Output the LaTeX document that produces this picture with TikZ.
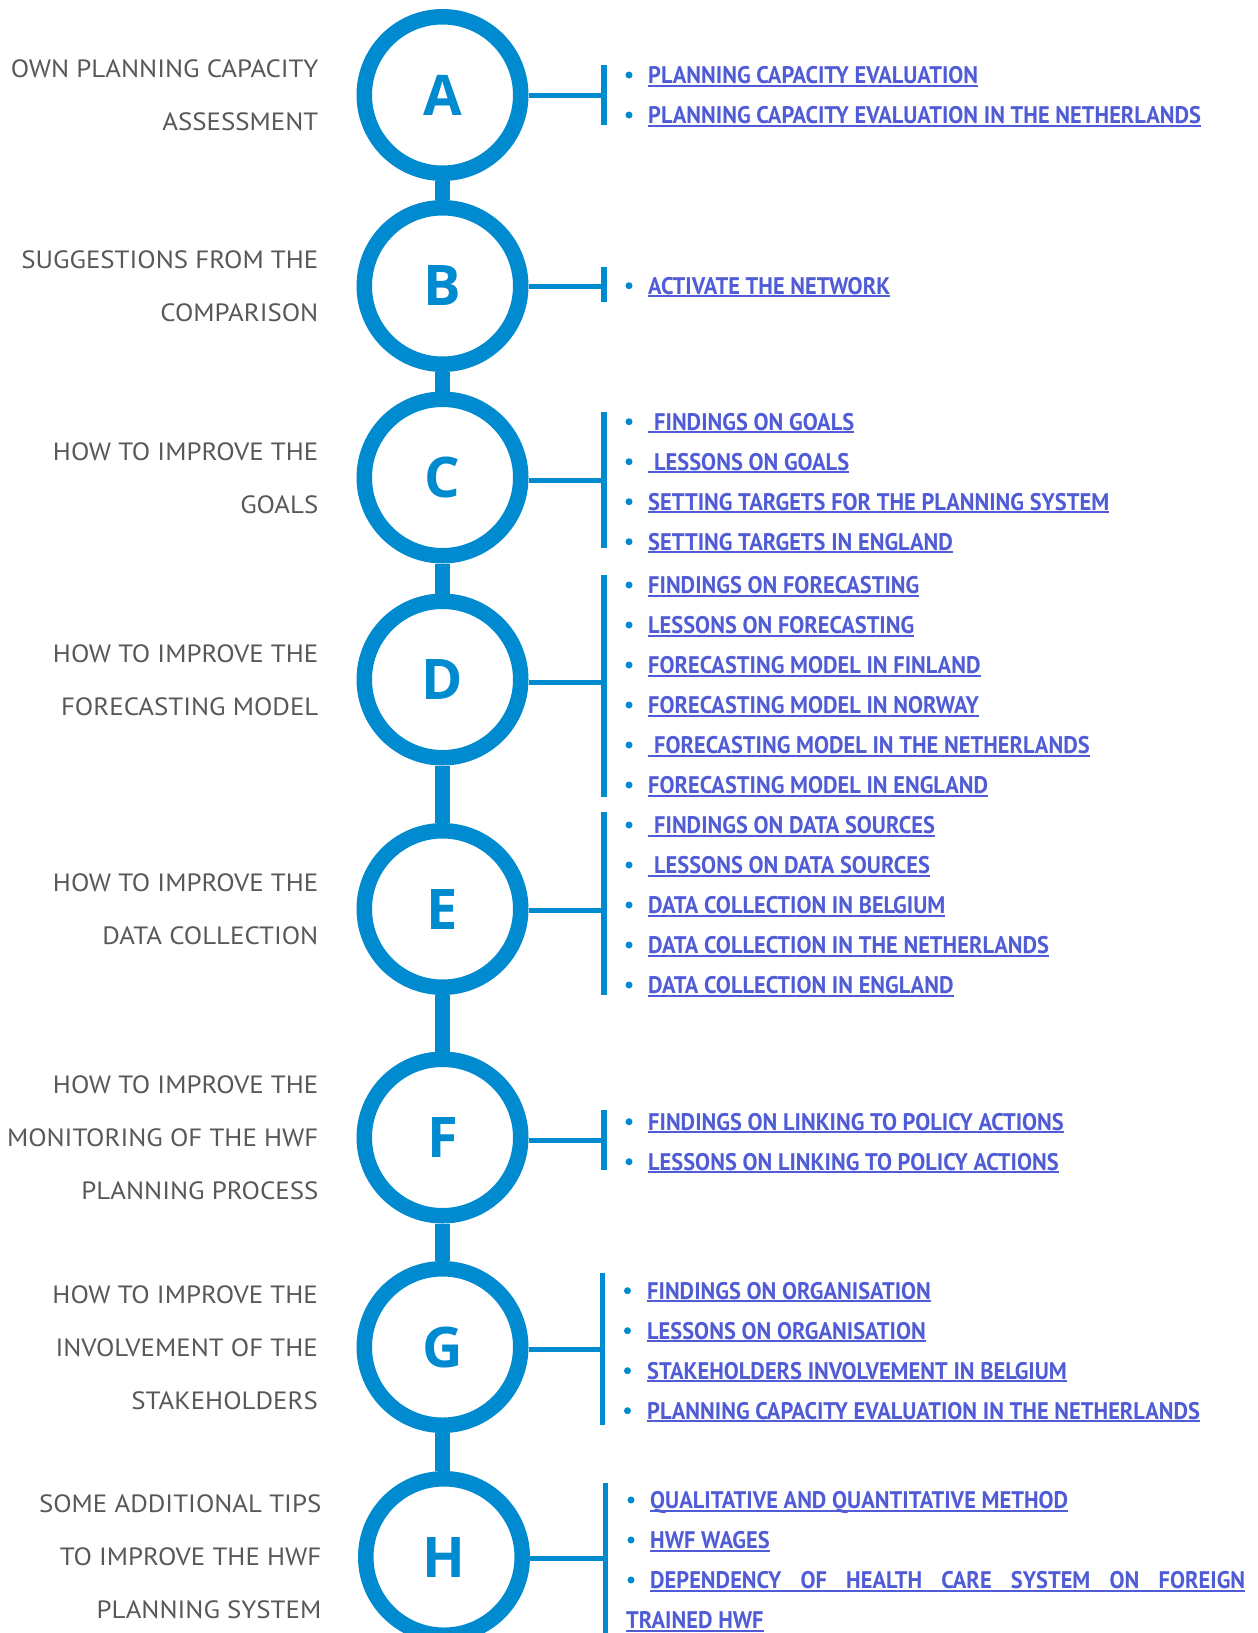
\documentclass[tikz,border=0pt]{standalone}
\usepackage{fontspec}
\setmainfont{PT Sans}
\newfontfamily\leftfont[FakeStretch=1.075]{PT Sans}
\newfontfamily\linkfont[FakeStretch=0.935]{PT Sans}
\newfontfamily\circfont{Open Sans}
\definecolor{ringblue}{RGB}{0,138,207}
\definecolor{linkblue}{RGB}{80,92,214}
\definecolor{leftgray}{RGB}{88,88,88}
\newcommand\ulnk[1]{\setbox0\hbox{#1}\makebox[0pt][l]{\raisebox{-3pt}{\color{linkblue}\rule{\wd0}{1.8pt}}}\box0}
\newcommand\linkrow[5]{%
  \node[bul] (b#1) at (#2,#4) {};
  \node[lnk] (t#1) at (#3,#4+8.5) {\ulnk{#5}};}
\tikzset{
  ring/.style={circle, draw=ringblue, fill=white, line width=15.5pt, minimum size=156.5pt, inner sep=0pt,
    text=ringblue, font=\circfont\bfseries\fontsize{56}{56}\selectfont},
  stem/.style={draw=ringblue, line width=15pt},
  hline/.style={draw=ringblue, line width=5pt},
  vbar/.style={draw=ringblue, line width=5.5pt},
  lefttxt/.style={anchor=base east, inner sep=0pt, text=leftgray, font=\leftfont\fontsize{25}{25}\selectfont},
  lnk/.style={anchor=base west, inner sep=0pt, text=linkblue, font=\linkfont\bfseries\fontsize{24}{24}\selectfont},
  bul/.style={circle, fill=ringblue, inner sep=0pt, minimum size=7pt},
}
\begin{document}
\begin{tikzpicture}[x=1pt,y=-1pt]
\useasboundingbox[fill=white] (0,0) rectangle (1258,1633);
% circles
\node[ring] (cA) at (442.5,95) {A};
\node[ring] (cB) at (442.5,286) {B};
\node[ring] (cC) at (442.5,477.5) {C};
\node[ring] (cD) at (442.5,679.5) {D};
\node[ring] (cE) at (442.5,909) {E};
\node[ring] (cF) at (442.5,1137.5) {F};
\node[ring] (cG) at (442.5,1347) {G};
\node[ring] (cH) at (444,1557) {H};
\coordinate (stemend) at (444,1645);
% stems
\draw[stem] (cA.south) -- (cB.north);
\draw[stem] (cB.south) -- (cC.north);
\draw[stem] (cC.south) -- (cD.north);
\draw[stem] (cD.south) -- (cE.north);
\draw[stem] (cE.south) -- (cF.north);
\draw[stem] (cF.south) -- (cG.north);
\draw[stem] (cG.south) -- (cG.south |- cH.north);
\draw[stem] (cH.south) -- (stemend);
% bars
\coordinate (hA) at (604,95);     \draw[vbar] (604,65) -- (604,125);
\coordinate (hB) at (604,286);    \draw[vbar] (604,267) -- (604,302);
\coordinate (hC) at (604,480);    \draw[vbar] (604,412) -- (604,548);
\coordinate (hD) at (604,682);    \draw[vbar] (604,575) -- (604,797);
\coordinate (hE) at (604,910.5);  \draw[vbar] (604,812) -- (604,995);
\coordinate (hF) at (604,1140);   \draw[vbar] (604,1110) -- (604,1170);
\coordinate (hG) at (602.5,1349); \draw[vbar] (602.5,1273) -- (602.5,1425);
\coordinate (hH) at (605.5,1558); \draw[vbar] (605.5,1483) -- (605.5,1640);
\draw[hline] (cA.east |- hA) -- (hA);
\draw[hline] (cB.east |- hB) -- (hB);
\draw[hline] (cC.east |- hC) -- (hC);
\draw[hline] (cD.east |- hD) -- (hD);
\draw[hline] (cE.east |- hE) -- (hE);
\draw[hline] (cF.east |- hF) -- (hF);
\draw[hline] (cG.east |- hG) -- (hG);
\draw[hline] (cH.east |- hH) -- (hH);
% left texts
\node[lefttxt] (lA1) at (318.5,77.5) {OWN PLANNING CAPACITY};
\node[lefttxt] (lA2) at (318.5,130.5) {ASSESSMENT};
\node[lefttxt] (lB1) at (318.5,268.5) {SUGGESTIONS FROM THE};
\node[lefttxt] (lB2) at (318.5,321.5) {COMPARISON};
\node[lefttxt] (lC1) at (318.5,460.5) {HOW TO IMPROVE THE};
\node[lefttxt] (lC2) at (318.5,513.5) {GOALS};
\node[lefttxt] (lD1) at (318.5,662.5) {HOW TO IMPROVE THE};
\node[lefttxt] (lD2) at (318.5,715.5) {FORECASTING MODEL};
\node[lefttxt] (lE1) at (318.5,891.5) {HOW TO IMPROVE THE};
\node[lefttxt] (lE2) at (318.5,944.5) {DATA COLLECTION};
\node[lefttxt] (lF1) at (318.5,1093.5) {HOW TO IMPROVE THE};
\node[lefttxt] (lF2) at (318.5,1146.5) {MONITORING OF THE HWF};
\node[lefttxt] (lF3) at (318.5,1199.5) {PLANNING PROCESS};
\node[lefttxt] (lG1) at (318,1303) {HOW TO IMPROVE THE};
\node[lefttxt] (lG2) at (318,1356) {INVOLVEMENT OF THE};
\node[lefttxt] (lG3) at (318,1409) {STAKEHOLDERS};
\node[lefttxt] (lH1) at (321.5,1512.5) {SOME ADDITIONAL TIPS};
\node[lefttxt] (lH2) at (321.5,1565.5) {TO IMPROVE THE HWF};
\node[lefttxt] (lH3) at (321.5,1618.5) {PLANNING SYSTEM};
% right link lists
\linkrow{A1}{629}{648}{75}{PLANNING CAPACITY EVALUATION}
\linkrow{A2}{629}{648}{115}{PLANNING CAPACITY EVALUATION IN THE NETHERLANDS}
\linkrow{B1}{629}{648}{285.7}{ACTIVATE THE NETWORK}
\linkrow{C1}{629}{648}{421.7}{\hspace*{6pt}FINDINGS ON GOALS}
\linkrow{C2}{629}{648}{461.7}{\hspace*{6pt}LESSONS ON GOALS}
\linkrow{C3}{629}{648}{501.7}{SETTING TARGETS FOR THE PLANNING SYSTEM}
\linkrow{C4}{629}{648}{541.7}{SETTING TARGETS IN ENGLAND}
\linkrow{D1}{629}{648}{585}{FINDINGS ON FORECASTING}
\linkrow{D2}{629}{648}{625}{LESSONS ON FORECASTING}
\linkrow{D3}{629}{648}{665}{FORECASTING MODEL IN FINLAND}
\linkrow{D4}{629}{648}{705}{FORECASTING MODEL IN NORWAY}
\linkrow{D5}{629}{648}{745}{\hspace*{6pt}FORECASTING MODEL IN THE NETHERLANDS}
\linkrow{D6}{629}{648}{785}{FORECASTING MODEL IN ENGLAND}
\linkrow{E1}{629}{648}{825}{\hspace*{6pt}FINDINGS ON DATA SOURCES}
\linkrow{E2}{629}{648}{865}{\hspace*{6pt}LESSONS ON DATA SOURCES}
\linkrow{E3}{629}{648}{905}{DATA COLLECTION IN BELGIUM}
\linkrow{E4}{629}{648}{945}{DATA COLLECTION IN THE NETHERLANDS}
\linkrow{E5}{629}{648}{985}{DATA COLLECTION IN ENGLAND}
\linkrow{F1}{629}{648}{1121.7}{FINDINGS ON LINKING TO POLICY ACTIONS}
\linkrow{F2}{629}{648}{1161.7}{LESSONS ON LINKING TO POLICY ACTIONS}
\linkrow{G1}{627.5}{647}{1290.7}{FINDINGS ON ORGANISATION}
\linkrow{G2}{627.5}{647}{1330.7}{LESSONS ON ORGANISATION}
\linkrow{G3}{627.5}{647}{1370.7}{STAKEHOLDERS INVOLVEMENT IN BELGIUM}
\linkrow{G4}{627.5}{647}{1410.7}{PLANNING CAPACITY EVALUATION IN THE NETHERLANDS}
\linkrow{H1}{631}{650}{1500}{QUALITATIVE AND QUANTITATIVE METHOD}
\linkrow{H2}{631}{650}{1540}{HWF WAGES}
\linkrow{H3}{631}{650}{1580}{\makebox[595pt][s]{DEPENDENCY OF HEALTH CARE SYSTEM ON FOREIGN}}
\node[lnk] (tH4) at (626,1628.5) {\ulnk{TRAINED HWF}};
\end{tikzpicture}
\end{document}
